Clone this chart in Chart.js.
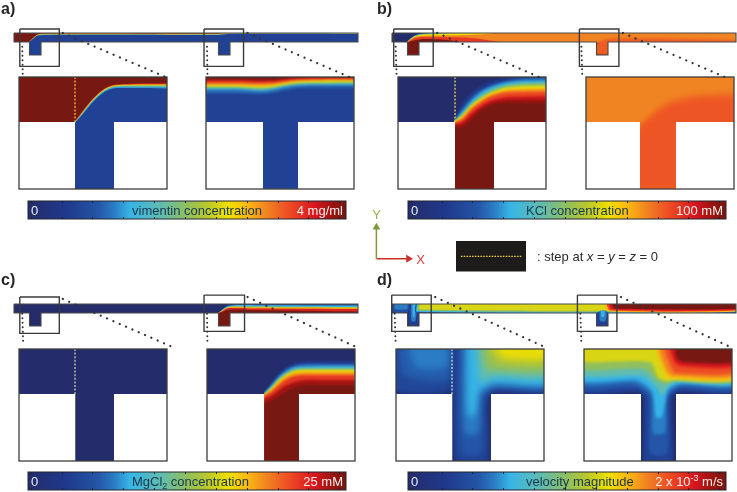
<!DOCTYPE html>
<html>
<head>
<meta charset="utf-8">
<title>Concentration and velocity maps</title>
<script src="https://cdn.jsdelivr.net/npm/chart.js@4/dist/chart.umd.js"></script>
<style>
  html, body { margin: 0; background: #fff; }
  #page { position: relative; width: 737px; height: 492px; overflow: hidden; filter: blur(.3px); }
  canvas { position: absolute; }
</style>
</head>
<body>
<div id="page"></div>
<script>
// Colour scale shared by all four colour bars (position 0..1 -> colour)
const jetPos = [0, .12, .22, .27, .32, .42, .5, .56, .63, .69, .75, .82, .9, .96, 1];
const jetColors = ['#242c6b', '#20398c', '#2455a6', '#2a7cc3', '#37b4e6', '#62bcae', '#90bf5e', '#b7c72f',
                   '#f0e000', '#fbb811', '#f18422', '#ee4d24', '#d8161f', '#98140f', '#771812'];
const barTicks = [0, 1, 2, 3, 4, 5, 6, 7, 8, 9, 10];

// Zoomed fields, contour lines: one x list, one y list per level
const aLeftX = [56, 64, 74, 84, 94, 108, 125, 148];
const aLeftLevels = [.85, .65, .45, .3, .15];
const aLeftIso = [
  [44.5, 33.5, 21.5, 12.5, 8, 7, 6.5, 6.5],
  [45, 34.5, 22.3, 13.2, 8.8, 7.8, 7.5, 7.5],
  [45, 35, 23, 14, 9.5, 8.6, 8.5, 8.5],
  [45.5, 36, 24, 15, 10.5, 9.8, 9.8, 10],
  [46, 37, 25, 16, 11.5, 11, 11, 11.5]
];
const aRightX = [0, 30, 55, 68, 80, 92, 110, 148];
const aRightLevels = [.88, .75, .63, .5, .35, .25, .15];
const aRightIso = [
  [3, 3, 3.5, 3.5, 2, 1, .6, .5],
  [5.5, 5.5, 6, 5.5, 4, 2.8, 2.2, 2],
  [8, 8, 8.8, 8, 6, 4.6, 4, 3.8],
  [9.5, 9.5, 10.5, 9.5, 7.2, 5.8, 5.3, 5],
  [11, 11, 12.3, 11, 8.8, 7.2, 6.8, 6.5],
  [12.5, 12.5, 14, 12.5, 10, 8.5, 8, 8],
  [16, 16, 17, 15.5, 13, 11, 10.5, 10.5]
];
const bLeftX = [56, 64, 74, 84, 94, 108, 125, 148];
const bLeftLevels = [.12, .25, .33, .5, .63, .73, .83, .91, .96, 1];
const bLeftIso = [
  [44, 26, 15, 8, 4, 1, -1, -2],
  [45, 32, 20, 12.5, 8, 4, 1.5, .5],
  [45, 35, 23.5, 15, 10, 6, 4, 3.5],
  [45, 37.5, 26.5, 18.5, 13, 8.5, 6.5, 6],
  [45, 39, 28, 21, 15.5, 11, 9.5, 9],
  [45.5, 40.5, 29.5, 22.5, 17, 13, 12, 11.5],
  [46, 42.5, 32, 24.5, 19, 15.5, 15, 14.5],
  [47, 45, 35.5, 28, 23, 20, 19.5, 19],
  [48.5, 47.5, 38.5, 30.5, 25.5, 23, 22.5, 22.5],
  [50, 50, 42, 33, 28, 26, 26, 26]
];
const bRightX = [48, 60, 74, 90, 110, 148];
const bRightLevels = [.77, .79, .81];
const bRightIso = [
  [52, 42, 29, 21, 17, 15],
  [54, 44, 32, 24, 20, 18],
  [57, 46, 35, 27, 23, 21]
];
const cRightX = [57, 64, 72, 80, 88, 98, 115, 148];
const cRightLevels = [.12, .25, .33, .5, .63, .73, .85, .95, 1];
const cRightIso = [
  [43, 34, 24.5, 17.5, 14, 12.5, 12, 12],
  [44, 36, 26.5, 20, 16.5, 15, 15, 15],
  [45, 37.5, 28.5, 22, 18.5, 17.5, 17, 17],
  [45.5, 39, 30, 24, 20.5, 19.5, 19.5, 19.5],
  [46, 40, 31.5, 25.5, 22, 21, 21, 21],
  [46.5, 41, 33, 27, 24, 23, 23, 23],
  [47, 43, 36, 30, 27, 26, 26, 26],
  [50, 47, 41, 36, 33, 31, 31, 31],
  [54, 52, 47, 42, 38, 36, 36, 36]
];
// Velocity fields bend back on themselves, so those contours are closed rings (x, y, x, y ...)
const dLeftLevels = [.17, .23, .27, .15, .22, .27, .32, .42, .5, .56, .62];
const dLeftRings = [
  [-5, -5, 53, -5, 53, 40, -5, 40],
  [2, -5, 52, -5, 52, 30, 8, 26],
  [12, -5, 50, -5, 50, 18, 20, 18],
  [59, -5, 153, -5, 153, 42, 100, 42, 92, 50, 91, 120, 60, 120],
  [63, -5, 153, -5, 153, 39, 100, 39, 88, 48, 86, 104, 65, 104],
  [67, -5, 153, -5, 153, 36.5, 98, 37, 85, 46, 82, 84, 69, 84],
  [71, -5, 153, -5, 153, 34, 98, 34, 83, 42, 79, 66, 72, 66],
  [80, -5, 153, -5, 153, 28, 98, 28, 86, 33, 82, 18],
  [85, -5, 153, -5, 153, 22, 100, 22, 90, 20],
  [92, -5, 153, -5, 153, 15, 105, 15, 96, 9],
  [100, -5, 153, -5, 153, 9, 110, 9, 102, 4]
];
const dRightLevels = [.15, .22, .27, .32, .42, .5, .6, .69, .75, .82, .9, 1];
const dRightRings = [
  [-5, -5, 153, -5, 153, 43, 95, 43, 88, 50, 87, 120, 61, 120, 60, 50, 54, 43, -5, 43],
  [-5, -5, 153, -5, 153, 40, 95, 40, 85, 48, 83, 104, 66, 104, 64, 48, 52, 39, -5, 39],
  [-5, -5, 153, -5, 153, 37, 96, 37, 83, 47, 81, 84, 69, 84, 67, 46, 50, 34.5, -5, 34.5],
  [-5, -5, 153, -5, 153, 34.5, 96, 34.5, 84, 41, 78, 68, 72, 68, 68, 42, 52, 31, -5, 31],
  [-5, -5, 153, -5, 153, 33, 92, 33, 84, 38, 78, 46, 72, 38, 58, 27, -5, 26],
  [-5, -5, 153, -5, 153, 31, 90, 32, 82, 35, 74, 32, 60, 20, -5, 20],
  [-5, -5, 153, -5, 153, 30, 90, 31, 82, 32, 74, 28, 66, 13, -5, 12],
  [70, -5, 153, -5, 153, 29, 92, 29.5, 84, 28, 77, 14],
  [74, -5, 153, -5, 153, 26, 92, 27, 85, 25, 78, 10],
  [78, -5, 153, -5, 153, 23, 92, 24, 88, 20, 83, 8],
  [84, -5, 153, -5, 153, 17, 96, 17, 90, 12],
  [91, -5, 153, -5, 153, 13, 98, 13, 92, 8]
];

// Overview channels, same idea on a 344 x 22 strip
const stripOutlineX = [0, 344, 344, 216, 216, 204.5, 204.5, 27, 27, 15.5, 15.5, 0, 0];
const stripOutlineY = [0, 0, 9, 9, 22, 22, 9, 9, 22, 22, 9, 9, 0];
const stripAX = [15, 19, 24, 34, 204, 214, 344];
const stripALevels = [.72, .45, .15];
const stripAIso = [
  [9, 5, 1.2, .4, .4, -1, -1],
  [9, 5.5, 2, 1.3, 1.3, .4, .4],
  [9, 6, 2.6, 1.9, 1.9, .9, 1]
];
const stripBX = [15, 19, 24, 32, 50, 80, 120, 344];
const stripBLevels = [.32, .5, .63, .75, .85, 1];
const stripBIso = [
  [9, 5, 2, .5, -.5, -1, -1, -1],
  [9, 5.5, 2.5, 1, .3, -1, -1, -1],
  [9, 6, 3, 1.5, 1, .3, -1, -1],
  [9.5, 6.5, 3.5, 2.7, 2.5, 1.8, -1, -1],
  [9.5, 7, 5, 4, 4, 5, 10, 10],
  [10, 8, 7, 6, 6.5, 10, 10, 10]
];
const stripBJoinX = [198, 216, 344];
const stripBJoinY = [14, 6, 7];
const stripCX = [204, 208, 213, 220, 240, 344];
const stripCLevels = [.2, .33, .55, .72, .88, 1];
const stripCIso = [
  [9, 5.5, 1.8, .5, .3, .3],
  [9, 6, 2.5, 1.2, 1.2, 1.5],
  [9, 6.5, 3.2, 2.2, 2.5, 3],
  [9, 7, 3.8, 3, 3.5, 4],
  [9, 7.5, 4.5, 4, 4.5, 5],
  [9.5, 8, 6, 5.5, 6, 7.5]
];
const stripDLevels = [.2, .27, .14, .27, .32, .2, .32, .5, .6, .14, .27, .32, .69, .82, .9, 1];
const stripDRings = [
  [1, -1, 16, -1, 16, 8, 1, 8],
  [3, -1, 15, -1, 15, 5, 3, 5],
  [17, -1, 25.5, -1, 25.5, 21, 17, 21],
  [19, -1, 24, -1, 23.5, 17, 19.5, 17],
  [20.5, -1, 23, -1, 22.5, 13, 21, 13],
  [24, -1, 350, -1, 350, 8.6, 24, 8.6],
  [25, -1, 350, -1, 350, 7.8, 25, 7.8],
  [26, -1, 350, -1, 350, 6.8, 26, 6.8],
  [28, -1, 350, -1, 350, 5.6, 28, 5.6],
  [205.5, 8, 215.5, 8, 215.5, 21, 205.5, 21],
  [207.5, 7, 214, 7, 213.5, 17, 208, 17],
  [209, 7, 212.5, 7, 212, 13, 209.5, 13],
  [212, -1, 350, -1, 350, 7.2, 216, 7.2],
  [214, -1, 350, -1, 350, 6.4, 218, 6.4],
  [216, -1, 350, -1, 350, 5.6, 220, 5.6],
  [219, -1, 350, -1, 350, 4.6, 223, 4.6]
];

// ---- helpers ----
const page = document.getElementById('page');

function jet(v) {
  const t = Math.min(1, Math.max(0, v));
  let i = 0;
  while (i < jetPos.length - 2 && t > jetPos[i + 1]) i++;
  const f = (t - jetPos[i]) / (jetPos[i + 1] - jetPos[i]);
  const a = parseInt(jetColors[i].slice(1), 16), b = parseInt(jetColors[i + 1].slice(1), 16);
  const mix = (s) => Math.round(((a >> s) & 255) * (1 - f) + ((b >> s) & 255) * f);
  return `rgb(${mix(16)},${mix(8)},${mix(0)})`;
}

function isoLayers(x, levels, rows, blur) {
  return rows.map((y, i) => ({ v: levels[i], x, y, blur }));
}

function ringLayers(levels, rings, blur) {
  return rings.map((r, i) => {
    const x = [], y = [];
    for (let k = 0; k < r.length; k += 2) { x.push(r[k]); y.push(r[k + 1]); }
    x.push(r[0]); y.push(r[1]);
    return { v: levels[i], x, y, blur, fill: 'shape', tension: .25 };
  });
}

function newCanvas(left, top, w, h) {
  const c = document.createElement('canvas');
  c.width = w; c.height = h;
  c.style.left = left + 'px';
  c.style.top = top + 'px';
  page.appendChild(c);
  return c;
}

function drawRuns(ctx, runs, x, y, size, color, align) {
  // text with sub/superscripts and italics, left to right
  const fontOf = (r) => `${r.italic ? 'italic ' : ''}${r.shift ? size * .68 : size}px "Liberation Sans", Arial, sans-serif`;
  let total = 0;
  runs.forEach(r => { ctx.font = fontOf(r); total += ctx.measureText(r.text).width; });
  let cx = align === 'right' ? x - total : align === 'center' ? x - total / 2 : x;
  ctx.fillStyle = color;
  ctx.textAlign = 'left';
  ctx.textBaseline = 'alphabetic';
  runs.forEach(r => {
    ctx.font = fontOf(r);
    ctx.fillText(r.text, cx, y + (r.shift || 0));
    cx += ctx.measureText(r.text).width;
  });
}

// per dataset gaussian softening, filler paints just before each dataset's own draw
const softenPlugin = {
  id: 'soften',
  beforeDatasetsDraw(chart) {
    const first = chart.data.datasets[0];
    chart.ctx.filter = first && first.blur ? `blur(${first.blur}px)` : 'none';
  },
  afterDatasetDraw(chart, args) {
    const next = chart.data.datasets[args.index + 1];
    chart.ctx.filter = next && next.blur ? `blur(${next.blur}px)` : 'none';
  },
  afterDatasetsDraw(chart) {
    chart.ctx.filter = 'none';
  }
};

const PAD = 2;

function fieldChart(spec) {
  const canvas = newCanvas(spec.left - PAD, spec.top - PAD, spec.w + 2 * PAD, spec.h + 2 * PAD);
  const layers = [{ v: spec.base, x: [0, spec.w], y: [0, 0] }].concat(spec.layers);
  (spec.walls || []).forEach(w => layers.push({ color: '#fff', x: [w[0], w[1]], y: [spec.floor, spec.floor], tension: 0 }));
  const datasets = layers.map((l, i) => ({
    data: l.x.map((x, k) => ({ x, y: l.y[k] })),
    showLine: true,
    pointRadius: 0,
    borderWidth: 0,
    fill: l.fill || 'start',
    backgroundColor: l.color || jet(l.v),
    tension: l.tension === undefined ? .3 : l.tension,
    blur: l.blur,
    order: 1000 - i
  }));
  if (spec.stepX !== undefined) {
    datasets.push({
      data: [{ x: spec.stepX, y: 0 }, { x: spec.stepX, y: spec.floor }],
      showLine: true, pointRadius: 0, borderWidth: 1.4, borderColor: spec.stepColor,
      borderDash: [2, 1.6], fill: false, order: 1
    });
  }
  if (spec.outlineX) {
    datasets.push({
      data: spec.outlineX.map((x, k) => ({ x, y: spec.outlineY[k] })),
      showLine: true, pointRadius: 0, borderWidth: 1.1, borderColor: '#4a4a4a',
      fill: false, tension: 0, clip: false, order: 0
    });
  }
  new Chart(canvas, {
    type: 'scatter',
    data: { datasets },
    options: {
      responsive: false, animation: false, events: [],
      layout: { padding: PAD },
      scales: {
        x: { type: 'linear', min: 0, max: spec.w, display: false },
        y: { type: 'linear', min: 0, max: spec.h, reverse: true, display: false }
      },
      plugins: { legend: { display: false }, tooltip: { enabled: false } }
    },
    plugins: [softenPlugin, {
      id: 'frame',
      afterDraw(chart) {
        if (!spec.frame) return;
        const { left, top, width, height } = chart.chartArea;
        const ctx = chart.ctx;
        ctx.save();
        ctx.strokeStyle = '#3c3c3c';
        ctx.lineWidth = 1.3;
        ctx.strokeRect(left, top, width, height);
        ctx.restore();
      }
    }]
  });
}

function colorBar(left, top, labels) {
  const w = 318, h = 18;
  const canvas = newCanvas(left - PAD, top - PAD, w + 2 * PAD, h + 2 * PAD);
  new Chart(canvas, {
    type: 'bar',
    data: {
      labels: ['scale'],
      datasets: [{
        data: [[-.09, 10.22]],
        barPercentage: 1, categoryPercentage: 1,
        backgroundColor: (context) => {
          const { ctx, chartArea } = context.chart;
          if (!chartArea) return;
          const g = ctx.createLinearGradient(chartArea.left, 0, chartArea.right, 0);
          jetPos.forEach((p, i) => g.addColorStop(p, jetColors[i]));
          return g;
        }
      }]
    },
    options: {
      indexAxis: 'y', responsive: false, animation: false, events: [],
      layout: { padding: PAD },
      scales: {
        x: { type: 'linear', min: -.09, max: 10.22, display: false },
        y: { display: false }
      },
      plugins: { legend: { display: false }, tooltip: { enabled: false } }
    },
    plugins: [{
      id: 'barMarks',
      afterDraw(chart) {
        const ctx = chart.ctx, a = chart.chartArea, sx = chart.scales.x;
        ctx.save();
        ctx.strokeStyle = '#1b2030';
        ctx.lineWidth = 1;
        barTicks.forEach(t => {
          const px = Math.round(sx.getPixelForValue(t)) + .5;
          ctx.beginPath();
          ctx.moveTo(px, a.top); ctx.lineTo(px, a.top + 2);
          ctx.moveTo(px, a.bottom - 2); ctx.lineTo(px, a.bottom);
          ctx.stroke();
        });
        ctx.strokeStyle = '#22262e';
        ctx.strokeRect(a.left, a.top, a.width, a.height);
        const base = a.top + 14;
        drawRuns(ctx, [{ text: '0' }], a.left + 3, base, 13, '#e8eef5');
        drawRuns(ctx, labels.middle, labels.midX - left + PAD, base, 13, '#17384f', 'left');
        drawRuns(ctx, labels.right, a.right - 3, base, 13, '#fbeeea', 'right');
        ctx.restore();
      }
    }]
  });
}

// ---- panels ----
const W = 148, H = 112, FLOOR = 45;

const aLeftLayers = isoLayers(aLeftX, aLeftLevels, aLeftIso, .6);
const aRightLayers = isoLayers(aRightX, aRightLevels, aRightIso, .8);
const bLeftLayers = isoLayers(bLeftX, bLeftLevels, bLeftIso, 1.1);
const bRightLayers = isoLayers(bRightX, bRightLevels, bRightIso, 2.5);
const cRightLayers = isoLayers(cRightX, cRightLevels, cRightIso, .9);
const dLeftLayers = [{ v: .1, x: [-5, 153, 153, -5, -5], y: [-5, -5, 43, 43, -5], fill: 'shape', tension: 0, blur: 2 }]
  .concat(ringLayers(dLeftLevels, dLeftRings, 3));
const dRightLayers = ringLayers(dRightLevels, dRightRings, 1.7);

const insets = [
  { left: 19, top: 77, base: 1, layers: aLeftLayers, walls: [[0, 56], [95, 148]], stepX: 56, stepColor: '#f0b030' },
  { left: 206, top: 77, base: 1, layers: aRightLayers, walls: [[0, 57], [92, 148]] },
  { left: 398, top: 77, base: 0, layers: bLeftLayers, walls: [[0, 57], [96, 148]], stepX: 57, stepColor: '#e6c84a' },
  { left: 586, top: 77, base: .75, layers: bRightLayers, walls: [[0, 54], [90, 148]] },
  { left: 19, top: 349, base: 0, layers: [], walls: [[0, 56.5], [95, 148]], stepX: 56, stepColor: '#c8c49a' },
  { left: 206.5, top: 349, base: 0, layers: cRightLayers, walls: [[0, 57], [92, 148]] },
  { left: 396, top: 349, base: 0, layers: dLeftLayers, walls: [[0, 56.5], [95, 148]], stepX: 56, stepColor: '#b8e0c8' },
  { left: 584, top: 349, base: 0, layers: dRightLayers, walls: [[0, 57], [92, 148]] }
];
insets.forEach(i => fieldChart(Object.assign({ w: W, h: H, floor: FLOOR, frame: true }, i)));

const stripWalls = [[-2, 15.5], [27, 204.5], [216, 346]];
const strips = [
  { left: 14, top: 33, base: 1, layers: isoLayers(stripAX, stripALevels, stripAIso, .3) },
  { left: 391.5, top: 33, base: 0, layers: isoLayers(stripBX, stripBLevels, stripBIso, .5)
      .concat({ v: .8, x: stripBJoinX, y: stripBJoinY, blur: .8 }) },
  { left: 14, top: 304, base: 0, layers: isoLayers(stripCX, stripCLevels, stripCIso, .3) },
  { left: 391.5, top: 304, base: 0, layers: ringLayers(stripDLevels, stripDRings, .6) }
];
strips.forEach(s => fieldChart(Object.assign({
  w: 344, h: 22, floor: 9, walls: stripWalls, outlineX: stripOutlineX, outlineY: stripOutlineY
}, s)));

colorBar(28, 201, { middle: [{ text: 'vimentin concentration' }], midX: 132, right: [{ text: '4 mg/ml' }] });
colorBar(408, 201, { middle: [{ text: 'KCl concentration' }], midX: 526, right: [{ text: '100 mM' }] });
colorBar(28, 472, { middle: [{ text: 'MgCl' }, { text: '2', shift: 3 }, { text: ' concentration' }], midX: 132, right: [{ text: '25 mM' }] });
colorBar(408, 472, { middle: [{ text: 'velocity magnitude' }], midX: 526,
  right: [{ text: '2 x 10' }, { text: '-3', shift: -5 }, { text: ' m/s' }] });

// ---- overlay: boxes, dotted zoom links, axes key, legend swatch, panel letters ----
const boxRects = [
  [15.5, 25, 55.5, 63], [202, 25, 242, 63], [394, 25, 434, 63], [582, 25, 622, 63],
  [15.5, 298, 55.5, 335], [202, 296, 243, 333], [392, 296, 432, 333], [580, 296, 620, 333]
];
const zoomLinks = [
  [59, 29, 168, 76], [246, 29, 354, 76], [438, 29, 546, 76], [626, 29, 734, 76],
  [59, 300, 168, 348], [246, 298, 354, 348], [436, 298, 545, 348], [624, 298, 733, 348]
];
const zoomDrops = [
  [18, 43, 18.5, 75], [205, 43, 205.5, 75], [396, 43, 397, 75], [584, 43, 585, 75],
  [18, 315, 19, 347], [205, 315, 205.5, 347], [395, 315, 396, 347], [583, 315, 584, 347]
];
const overlay = newCanvas(0, 0, 737, 492);
overlay.style.pointerEvents = 'none';
const overlaySets = [];
const pts = (xs, ys) => xs.map((x, i) => ({ x, y: ys[i] }));
boxRects.forEach(b => overlaySets.push({
  data: pts([b[0], b[2], b[2], b[0], b[0]], [b[1], b[1], b[3], b[3], b[1]]),
  showLine: true, pointRadius: 0, borderWidth: 1.4, borderColor: '#3a3a3a', fill: false
}));
zoomLinks.forEach(l => overlaySets.push({
  data: pts([l[0], l[2]], [l[1], l[3]]),
  showLine: true, pointRadius: 0, borderWidth: 2.2, borderColor: '#333', borderDash: [.1, 6.8],
  borderCapStyle: 'round', fill: false
}));
zoomDrops.forEach(l => overlaySets.push({
  data: pts([l[0], l[2]], [l[1], l[3]]),
  showLine: true, pointRadius: 0, borderWidth: 2, borderColor: '#333', borderDash: [.1, 4.4],
  borderCapStyle: 'round', fill: false
}));
overlaySets.push({
  data: pts([457, 528], [241, 241]), showLine: true, pointRadius: 0, borderWidth: 0, order: 5,
  fill: { value: 272 }, backgroundColor: '#1d1c1a'
});
overlaySets.push({
  data: pts([462, 524], [256.5, 256.5]), showLine: true, pointRadius: 0, borderWidth: 1.2,
  borderColor: '#e8cf3a', borderDash: [1.6, 1.2], fill: false, order: 1
});
overlaySets.push({
  data: pts([376.5, 376.5], [259, 227]), showLine: true, borderWidth: 1.5, borderColor: '#7f9a3c',
  pointRadius: [0, 4.5], pointStyle: 'triangle', pointRotation: 0,
  pointBackgroundColor: '#7f9a3c', pointBorderWidth: 0, fill: false
});
overlaySets.push({
  data: pts([376.5, 409], [259, 259]), showLine: true, borderWidth: 1.5, borderColor: '#c8302c',
  pointRadius: [0, 4.5], pointStyle: 'triangle', pointRotation: 90,
  pointBackgroundColor: '#c8302c', pointBorderWidth: 0, fill: false
});

new Chart(overlay, {
  type: 'scatter',
  data: { datasets: overlaySets },
  options: {
    responsive: false, animation: false, events: [],
    scales: {
      x: { type: 'linear', min: 0, max: 737, display: false },
      y: { type: 'linear', min: 0, max: 492, reverse: true, display: false }
    },
    plugins: { legend: { display: false }, tooltip: { enabled: false } }
  },
  plugins: [{
    id: 'pageText',
    afterDraw(chart) {
      const ctx = chart.ctx;
      ctx.save();
      [['a)', 1, 13.5], ['b)', 377, 13.5], ['c)', 1, 285], ['d)', 377, 285]].forEach(t => {
        ctx.font = 'bold 16px "Liberation Sans", Arial, sans-serif';
        ctx.fillStyle = '#262626';
        ctx.textAlign = 'left';
        ctx.textBaseline = 'alphabetic';
        ctx.fillText(t[0], t[1], t[2]);
      });
      drawRuns(ctx, [{ text: 'Y' }], 376.5, 219, 13, '#9aad4c', 'center');
      drawRuns(ctx, [{ text: 'X' }], 420.5, 264, 13, '#c8423e', 'center');
      drawRuns(ctx, [
        { text: ': step at ' }, { text: 'x', italic: true }, { text: ' = ' },
        { text: 'y', italic: true }, { text: ' = ' }, { text: 'z', italic: true }, { text: ' = 0' }
      ], 537, 261, 13, '#2a2a2a');
      ctx.restore();
    }
  }]
});
</script>
</body>
</html>
